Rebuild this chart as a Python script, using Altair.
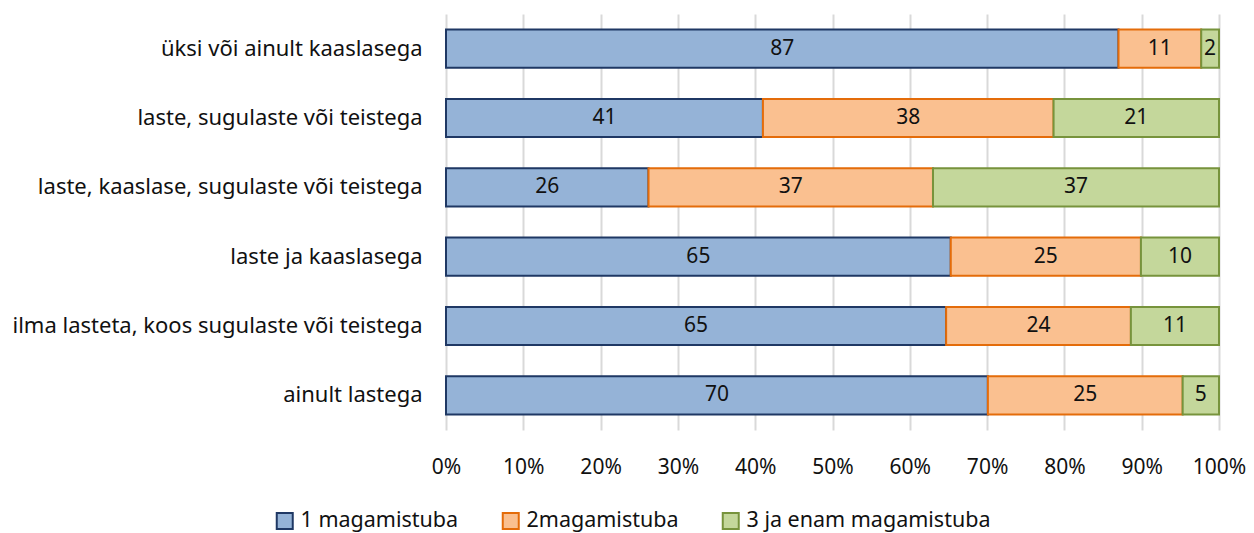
import altair as alt
import pandas as pd

categories = [
    "üksi või ainult kaaslasega",
    "laste, sugulaste või teistega",
    "laste, kaaslase, sugulaste või teistega",
    "laste ja kaaslasega",
    "ilma lasteta, koos sugulaste või teistega",
    "ainult lastega",
]
series = ["1 magamistuba", "2magamistuba", "3 ja enam magamistuba"]
one_room = [87.0, 41.0, 26.2, 65.3, 64.7, 70.1]
two_rooms = [10.7, 37.6, 36.8, 24.6, 23.9, 25.2]
three_rooms = [2.3, 21.4, 37.0, 10.1, 11.4, 4.7]
fills = ["#95b3d7", "#fac090", "#c4d79b"]
strokes = ["#1f3864", "#e46c0a", "#77933c"]

rows = []
for vals, s, o in zip([one_room, two_rooms, three_rooms], series, range(3)):
    for c, v in zip(categories, vals):
        rows.append({"cat": c, "series": s, "order": o, "value": v})
df = pd.DataFrame(rows)

FONT = "Noto Sans"
TXT = "#111111"

y = alt.Y("cat:N", sort=categories, title=None,
          scale=alt.Scale(paddingInner=0.45, paddingOuter=0.225),
          axis=alt.Axis(labelFontSize=22, labelPadding=24, labelLimit=600,
                        ticks=False, domain=False, labelColor=TXT,
                        labelFont=FONT))

bars = alt.Chart(df).mark_bar(strokeWidth=2).encode(
    y=y,
    x=alt.X("value:Q", stack="zero", title=None,
            scale=alt.Scale(domain=[0, 100], nice=False),
            axis=alt.Axis(values=list(range(0, 101, 10)),
                          labelExpr="datum.value + '%'", labelFlush=False,
                          labelFontSize=21, labelPadding=26, ticks=False,
                          domain=False, grid=True, gridColor="#d9d9d9",
                          gridWidth=2, labelColor=TXT, labelFont=FONT)),
    fill=alt.Fill("series:N", scale=alt.Scale(domain=series, range=fills),
                  legend=alt.Legend(title=None)),
    stroke=alt.Stroke("series:N", scale=alt.Scale(domain=series, range=strokes),
                      legend=alt.Legend(title=None)),
    order=alt.Order("order:Q"),
)

labels = alt.Chart(df).transform_stack(
    stack="value", groupby=["cat"], as_=["v0", "v1"],
    sort=[alt.SortField("order", order="ascending")],
).transform_calculate(
    mid="(datum.v0 + datum.v1) / 2",
    lab="format(datum.value, '.0f')",
).mark_text(fontSize=21, font=FONT, color=TXT, baseline="middle").encode(
    y=alt.Y("cat:N", sort=categories),
    x=alt.X("mid:Q"),
    text="lab:N",
)

chart = alt.layer(bars, labels).properties(
    width=773, height=416,
    autosize=alt.AutoSizeParams(type="none"),
    padding={"left": 438, "top": 6, "right": 27, "bottom": 110},
).configure_view(stroke=None).configure_legend(
    orient="none", legendX=-172, legendY=496, direction="horizontal",
    symbolType="square", symbolSize=256, symbolStrokeWidth=2,
    labelFontSize=21.5, labelFont=FONT, labelColor=TXT,
    columnPadding=39, labelOffset=5, labelLimit=400,
)

chart.save("out.html", embed_options={"renderer": "svg", "actions": False})
